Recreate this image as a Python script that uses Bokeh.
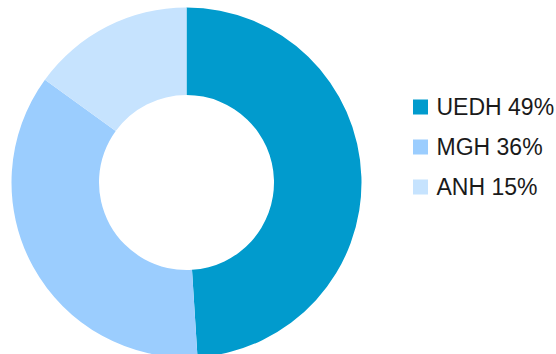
import math
from bokeh.plotting import figure
from bokeh.models import Range1d, ColumnDataSource
from bokeh.core.properties import value
from bokeh.embed import file_html
from bokeh.resources import INLINE

categories = ["UEDH", "MGH", "ANH"]
shares = [49, 36, 15]
colors = ["#019BCD", "#9BCDFE", "#C6E3FE"]

W, H = 556, 354
p = figure(width=W, height=H, output_backend="svg", toolbar_location=None,
           x_range=Range1d(0, W), y_range=Range1d(0, H), min_border=0)
p.axis.visible = False
p.grid.visible = False
p.outline_line_color = None
p.background_fill_color = "white"

total = sum(shares)
starts, ends = [], []
acc = 0.0
for s in shares:
    starts.append(math.pi / 2 - 2 * math.pi * acc / total)
    acc += s
    ends.append(math.pi / 2 - 2 * math.pi * acc / total)

cx, cy = 186, H - 182
src = ColumnDataSource(dict(start=starts, end=ends, color=colors))
p.annular_wedge(x=cx, y=cy, inner_radius=87.5, outer_radius=175,
                start_angle="start", end_angle="end", direction="clock",
                color="color", line_color=None, source=src)

labels = [f"{c} {v}%" for c, v in zip(categories, shares)]
ys = [H - 106.5 - 40 * i for i in range(len(categories))]
leg = ColumnDataSource(dict(x=[420] * 3, tx=[436] * 3, y=ys, color=colors, label=labels))
p.rect(x="x", y="y", width=15, height=15, color="color", line_color=None, source=leg)
p.text(x="tx", y="y", text="label", source=leg, text_font=value("Liberation Sans"),
       text_font_size="23px", text_color="#1a1a1a", text_baseline="middle",
       text_align="left")

open("out.html", "w").write(file_html(p, INLINE))
